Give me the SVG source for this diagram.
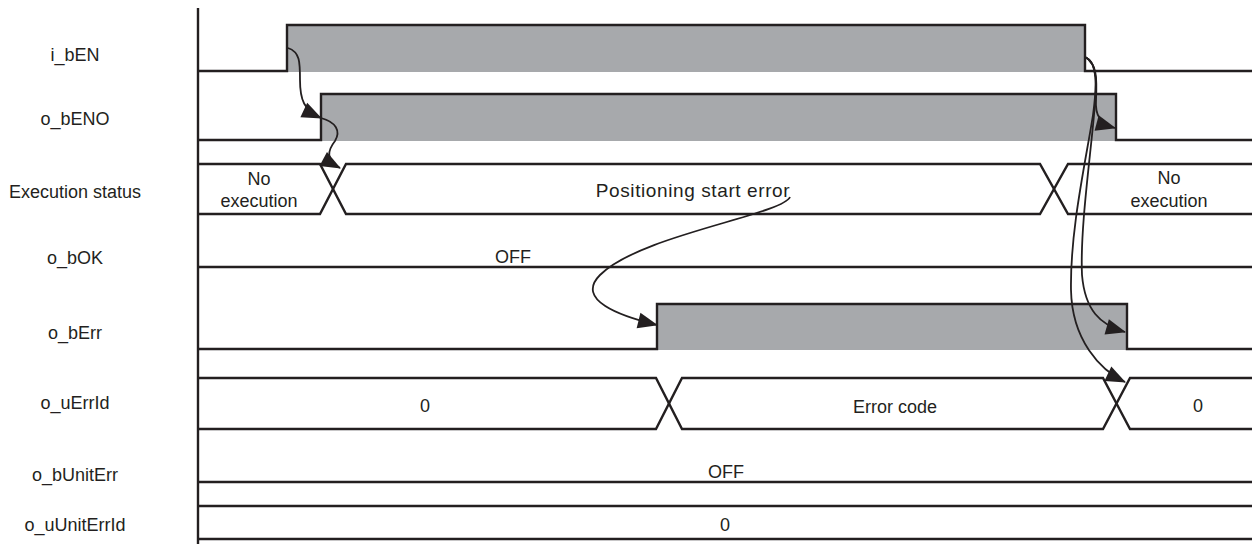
<svg xmlns="http://www.w3.org/2000/svg" width="1252" height="544" viewBox="0 0 1252 544">
<style>
.sig{fill:none;stroke:#231f20;stroke-width:2.4;stroke-linejoin:miter}
.hi{fill:#a7a9ac;stroke:none}
.lbl{font-family:"Liberation Sans",Arial,sans-serif;font-size:18px;fill:#231f20;text-anchor:middle}
.wide{font-size:19px;letter-spacing:0.6px}
.arr{fill:none;stroke:#231f20;stroke-width:1.8}
</style>
<defs>
<marker id="ah" viewBox="0 0 20 16" refX="19" refY="8" markerWidth="20" markerHeight="16" markerUnits="userSpaceOnUse" orient="auto" overflow="visible">
<path d="M0,0 L20,8 L0,16 Z" fill="#231f20"/>
</marker>
</defs>
<rect width="1252" height="544" fill="#ffffff"/>
<g id="axis"><line x1="198" y1="8" x2="198" y2="544" class="sig"/></g>
<g id="labels">
<text class="lbl" x="75" y="61">i_bEN</text>
<text class="lbl" x="75" y="125">o_bENO</text>
<text class="lbl" x="75" y="198">Execution status</text>
<text class="lbl" x="75" y="264">o_bOK</text>
<text class="lbl" x="75" y="339">o_bErr</text>
<text class="lbl" x="75" y="409">o_uErrId</text>
<text class="lbl" x="75" y="481">o_bUnitErr</text>
<text class="lbl" x="75" y="531">o_uUnitErrId</text>
</g>
<g id="i_bEN">
<rect class="hi" x="287" y="25" width="798" height="47"/>
<path class="sig" d="M198,71 H287 V25 H1085 V71 H1252"/>
</g>
<g id="o_bENO">
<rect class="hi" x="321" y="94" width="795" height="47"/>
<path class="sig" d="M198,140 H321 V94 H1116 V140 H1252"/>
</g>
<g id="exec_status">
<path class="sig" d="M198,164 H320 L346,214 H1040 L1068,164 H1252"/>
<path class="sig" d="M198,214 H320 L346,164 H1040 L1068,214 H1252"/>
<text class="lbl" x="259" y="185">No</text>
<text class="lbl" x="259" y="207">execution</text>
<text class="lbl wide" x="693" y="197">Positioning start error</text>
<text class="lbl" x="1169" y="184">No</text>
<text class="lbl" x="1169" y="207">execution</text>
</g>
<g id="o_bOK">
<line class="sig" x1="198" y1="267" x2="1252" y2="267"/>
<text class="lbl" x="513" y="263">OFF</text>
</g>
<g id="o_bErr">
<rect class="hi" x="657" y="304" width="470" height="46"/>
<path class="sig" d="M198,349 H657 V304 H1127 V349 H1252"/>
</g>
<g id="o_uErrId">
<path class="sig" d="M198,378 H656 L682,429 H1103 L1130,378 H1252"/>
<path class="sig" d="M198,429 H656 L682,378 H1103 L1130,429 H1252"/>
<text class="lbl" x="425" y="412">0</text>
<text class="lbl" x="895" y="413">Error code</text>
<text class="lbl" x="1198" y="412">0</text>
</g>
<g id="o_bUnitErr">
<line class="sig" x1="198" y1="482" x2="1252" y2="482"/>
<text class="lbl" x="726" y="478">OFF</text>
</g>
<g id="o_uUnitErrId">
<line class="sig" x1="198" y1="506" x2="1252" y2="506"/>
<line class="sig" x1="198" y1="539" x2="1252" y2="539"/>
<text class="lbl" x="725" y="531">0</text>
</g>
<g id="connectors">
<path class="arr" marker-end="url(#ah)" d="M288,48 C300,52 300,62 300,80 C300,100 304,110 321,118"/>
<path class="arr" marker-end="url(#ah)" d="M321,118 C336,122 341,131 335,141 C328,150 325,160 340,168"/>
<path class="arr" marker-end="url(#ah)" d="M790,197 C782,215 640,235 600,275 C575,300 620,316 657,325"/>
<path class="arr" marker-end="url(#ah)" d="M1085,57 C1097,62 1097,80 1096,100 C1095,115 1100,124 1115,128"/>
<path class="arr" marker-end="url(#ah)" d="M1085,57 C1098,63 1097,85 1094,115 C1090,160 1080,230 1082,275 C1085,310 1100,325 1125,332"/>
<path class="arr" marker-end="url(#ah)" d="M1085,57 C1098,63 1097,85 1093,115 C1086,160 1070,230 1071,290 C1072,340 1100,370 1125,382"/>
</g>
</svg>
